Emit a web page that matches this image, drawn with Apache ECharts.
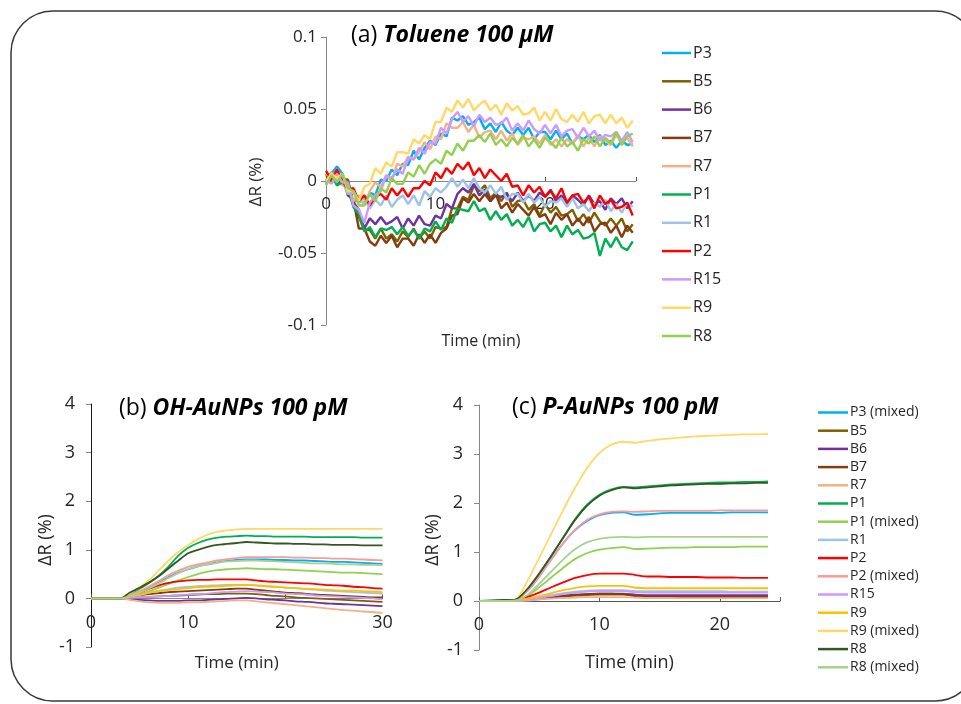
<!DOCTYPE html>
<html><head><meta charset="utf-8">
<script src="https://cdn.jsdelivr.net/npm/echarts@6/dist/echarts.min.js"></script>
<style>html,body{margin:0;padding:0;background:#fff}#c{width:961px;height:704px}</style>
</head><body><div id="c"></div>
<script>
// ---------- Panel (a): Toluene 100 µM ----------
const timeA = [0,0.5,1,1.5,2,2.5,3,3.5,4,4.5,5,5.5,6,6.5,7,7.5,8,8.5,9,9.5,10,10.5,11,11.5,12,12.5,13,13.5,14,14.5,15,15.5,16,16.5,17,17.5,18,18.5,19,19.5,20,20.5,21,21.5,22,22.5,23,23.5,24,24.5,25,25.5,26,26.5,27,27.5,28];
const namesA = ['P3','B5','B6','B7','R7','P1','R1','P2','R15','R9','R8'];
const colorsA = ['#00B0F0','#7F6000','#7030A0','#843C0C','#F4B183','#00B050','#9DC3E6','#FF0000','#CC99FF','#FFD966','#92D050'];
const a_P3 = [-.002,.005,.01,.005,-.005,-.015,-.012,-.016,-.008,-.01,.001,0,.008,.004,.012,.011,.021,.015,.023,.028,.025,.033,.031,.044,.042,.045,.039,.041,.044,.036,.04,.034,.041,.035,.032,.037,.032,.037,.029,.034,.034,.029,.035,.029,.033,.026,.031,.029,.032,.027,.032,.025,.028,.023,.028,.025,.026];
const a_B5 = [.004,.002,.006,.001,.001,-.015,-.025,-.034,-.034,-.04,-.033,-.04,-.037,-.042,-.035,-.039,-.033,-.04,-.035,-.04,-.032,-.033,-.032,-.019,-.019,-.011,-.013,-.003,-.007,-.003,-.012,-.008,-.014,-.008,-.018,-.014,-.013,-.02,-.016,-.024,-.016,-.022,-.018,-.024,-.023,-.02,-.028,-.023,-.029,-.022,-.028,-.031,-.026,-.031,-.026,-.035,-.03];
const a_B6 = [0,.006,-.002,.001,-.002,-.015,-.02,-.033,-.026,-.03,-.025,-.03,-.028,-.025,-.033,-.026,-.031,-.024,-.03,-.031,-.024,-.026,-.016,-.019,-.009,-.005,-.008,-.002,-.01,-.006,-.014,-.01,-.011,-.009,-.014,-.008,-.014,-.01,-.014,-.008,-.011,-.006,-.014,-.01,-.016,-.01,-.013,-.017,-.01,-.016,-.014,-.02,-.012,-.016,-.012,-.019,-.014];
const a_B7 = [.005,-.001,.002,.003,-.01,-.013,-.033,-.033,-.042,-.045,-.038,-.043,-.038,-.046,-.04,-.04,-.045,-.037,-.043,-.037,-.043,-.036,-.033,-.024,-.023,-.012,-.015,-.009,-.014,-.009,-.014,-.009,-.019,-.015,-.022,-.016,-.02,-.024,-.018,-.025,-.023,-.03,-.022,-.027,-.023,-.031,-.026,-.031,-.025,-.035,-.03,-.029,-.036,-.031,-.039,-.031,-.036];
const a_R7 = [.005,.002,.008,-.003,-.004,-.014,-.01,-.017,-.007,-.001,-.004,.004,0,.012,.01,.017,.015,.02,.027,.022,.031,.029,.04,.037,.037,.041,.034,.039,.03,.034,.035,.029,.035,.028,.033,.025,.03,.029,.031,.026,.032,.025,.029,.024,.029,.026,.032,.024,.03,.024,.031,.028,.025,.032,.027,.03,.024];
const a_P1 = [-.001,.004,-.003,-.001,-.005,-.018,-.023,-.035,-.032,-.039,-.033,-.034,-.032,-.037,-.032,-.038,-.034,-.04,-.033,-.035,-.028,-.034,-.026,-.029,-.019,-.02,-.021,-.014,-.021,-.019,-.027,-.021,-.027,-.023,-.031,-.027,-.032,-.025,-.035,-.03,-.029,-.035,-.031,-.039,-.031,-.037,-.034,-.04,-.039,-.036,-.052,-.04,-.046,-.039,-.046,-.048,-.042];
const a_R1 = [-.002,.006,.001,.001,-.009,-.007,-.015,-.012,-.019,-.013,-.017,-.01,-.018,-.013,-.01,-.016,-.01,-.017,-.007,-.011,-.005,-.008,-.004,.002,-.004,.001,-.005,.002,-.005,-.008,-.003,-.009,-.004,-.013,-.009,-.009,-.015,-.009,-.015,-.011,-.018,-.014,-.015,-.012,-.018,-.012,-.019,-.016,-.021,-.015,-.018,-.013,-.021,-.016,-.022,-.015,-.018];
const a_P2 = [.007,.001,.008,0,-.006,-.005,-.014,-.01,-.017,-.011,-.009,-.013,-.005,-.01,-.005,-.011,-.005,-.005,0,-.003,.006,.002,.009,.005,.012,.008,.013,.004,.009,.002,.008,.004,0,.005,-.004,-.003,-.01,-.003,-.008,-.004,-.011,-.007,-.012,-.005,-.015,-.01,-.009,-.015,-.011,-.019,-.01,-.016,-.013,-.019,-.018,-.015,-.024];
const a_R15 = [.001,-.002,.005,-.001,-.001,-.017,-.02,-.029,-.015,-.01,-.007,.004,.002,.008,.005,.016,.015,.023,.019,.027,.026,.037,.033,.043,.048,.041,.045,.038,.046,.041,.044,.039,.04,.044,.035,.04,.035,.042,.036,.033,.039,.033,.039,.031,.035,.036,.03,.037,.031,.035,.028,.032,.031,.034,.028,.034,.027];
const a_R9 = [0,.005,.002,.005,-.007,-.007,-.014,-.004,-.002,.009,.005,.013,.01,.02,.02,.019,.029,.026,.032,.029,.041,.041,.051,.048,.056,.051,.057,.049,.053,.056,.049,.053,.046,.054,.049,.052,.046,.047,.051,.042,.048,.042,.05,.043,.041,.046,.041,.048,.04,.045,.046,.04,.046,.04,.044,.037,.042];
const a_R8 = [-.003,.004,-.001,.005,-.005,-.007,-.017,-.017,-.009,-.014,-.005,-.008,.002,-.002,-.002,.006,.003,.011,.005,.012,.015,.012,.021,.018,.026,.021,.028,.028,.032,.027,.033,.025,.029,.024,.03,.026,.032,.024,.029,.023,.03,.027,.023,.03,.024,.027,.021,.029,.026,.031,.024,.03,.026,.034,.025,.031,.033];
const valuesA = [a_P3,a_B5,a_B6,a_B7,a_R7,a_P1,a_R1,a_P2,a_R15,a_R9,a_R8];
const yTicksA = [-0.1,-0.05,0,0.05,0.1];

// ---------- Shared names for panels (b) and (c) ----------
const namesBC = ['P3 (mixed)','B5','B6','B7','R7','P1','P1 (mixed)','R1','P2','P2 (mixed)','R15','R9','R9 (mixed)','R8','R8 (mixed)'];
const colorsBC = ['#00B0F0','#7F6000','#7030A0','#843C0C','#F4B183','#00B050','#92D050','#9DC3E6','#FF0000','#FF9999','#CC99FF','#FFC000','#FFD966','#375623','#A9D18E'];

// ---------- Panel (b): OH-AuNPs 100 pM ----------
const timeB = [0,1,2,3,4,5,6,7,8,9,10,11,12,13,14,15,16,17,18,19,20,21,22,23,24,25,26,27,28,29,30];
const b_P3m = [0,0,0,0,.05,.13,.23,.33,.44,.53,.6,.66,.7,.74,.77,.79,.8,.8,.8,.79,.79,.78,.78,.77,.76,.75,.75,.74,.73,.72,.71];
const b_B5 = [0,0,0,0,.01,.02,.03,.04,.05,.06,.07,.08,.09,.09,.1,.1,.1,.09,.07,.05,.04,.02,.01,0,-.01,-.02,-.03,-.04,-.05,-.06,-.07];
const b_B6 = [0,0,0,0,-.02,-.03,-.04,-.05,-.05,-.05,-.04,-.04,-.03,-.02,-.01,0,.01,0,-.02,-.03,-.04,-.06,-.07,-.08,-.1,-.11,-.12,-.13,-.14,-.15,-.16];
const b_B7 = [0,0,0,0,.04,.07,.09,.11,.13,.14,.15,.16,.17,.18,.19,.2,.2,.18,.16,.14,.12,.11,.1,.08,.07,.06,.05,.04,.03,.02,.02];
const b_R7 = [0,0,0,0,-.03,-.06,-.08,-.09,-.09,-.09,-.08,-.08,-.07,-.06,-.05,-.04,-.04,-.06,-.08,-.1,-.12,-.14,-.16,-.18,-.2,-.22,-.24,-.25,-.27,-.28,-.3];
const b_P1 = [0,0,0,0,.08,.2,.32,.47,.66,.88,1.04,1.14,1.21,1.25,1.27,1.28,1.29,1.28,1.28,1.27,1.27,1.27,1.27,1.26,1.26,1.26,1.26,1.26,1.25,1.25,1.25];
const b_P1m = [0,0,0,0,.03,.08,.15,.22,.3,.37,.44,.5,.55,.58,.6,.61,.62,.61,.6,.6,.59,.58,.57,.56,.55,.54,.53,.53,.52,.51,.5];
const b_R1 = [0,0,0,0,.03,.07,.12,.16,.19,.22,.24,.25,.26,.27,.28,.28,.28,.27,.25,.24,.22,.21,.19,.18,.16,.15,.14,.13,.12,.11,.1];
const b_P2 = [0,0,0,0,.05,.12,.2,.27,.32,.35,.37,.38,.38,.39,.39,.39,.39,.37,.35,.34,.33,.32,.31,.3,.28,.27,.26,.24,.23,.21,.2];
const b_P2m = [0,0,0,0,.06,.15,.25,.36,.48,.57,.65,.7,.74,.78,.81,.83,.85,.85,.85,.85,.85,.84,.84,.83,.83,.82,.82,.81,.8,.79,.78];
const b_R15 = [0,0,0,0,.01,.02,.03,.04,.05,.07,.08,.09,.1,.12,.13,.14,.15,.14,.13,.12,.1,.09,.08,.06,.05,.04,.03,.02,.01,0,-.02];
const b_R9 = [0,0,0,0,.04,.08,.12,.15,.17,.19,.21,.23,.24,.25,.26,.27,.28,.27,.25,.24,.22,.21,.2,.19,.18,.17,.16,.16,.15,.14,.13];
const b_R9m = [0,0,0,0,.1,.23,.38,.58,.78,.96,1.1,1.22,1.31,1.37,1.4,1.42,1.43,1.43,1.43,1.43,1.43,1.43,1.43,1.43,1.43,1.43,1.43,1.43,1.43,1.43,1.43];
const b_R8 = [0,0,0,0,.12,.22,.33,.46,.62,.78,.93,1.0,1.06,1.1,1.12,1.14,1.16,1.15,1.14,1.13,1.13,1.12,1.12,1.11,1.11,1.1,1.1,1.1,1.09,1.09,1.09];
const b_R8m = [0,0,0,0,.05,.12,.21,.31,.42,.52,.6,.66,.7,.73,.76,.77,.78,.78,.77,.76,.75,.74,.73,.72,.72,.71,.7,.7,.69,.69,.68];
const valuesB = [b_P3m,b_B5,b_B6,b_B7,b_R7,b_P1,b_P1m,b_R1,b_P2,b_P2m,b_R15,b_R9,b_R9m,b_R8,b_R8m];

// ---------- Panel (c): P-AuNPs 100 pM ----------
const timeC = [0,1,2,3,4,5,6,7,8,9,10,11,12,13,14,15,16,17,18,19,20,21,22,23,24];
const c_P3m = [0,0,0,.02,.2,.5,.85,1.18,1.45,1.64,1.75,1.8,1.81,1.76,1.77,1.79,1.8,1.8,1.8,1.8,1.8,1.81,1.81,1.81,1.81];
const c_B5 = [0,0,0,0,.02,.04,.07,.09,.11,.12,.13,.13,.13,.11,.1,.1,.1,.1,.1,.1,.1,.1,.1,.1,.1];
const c_B6 = [0,0,0,0,.02,.05,.08,.11,.13,.14,.15,.15,.15,.13,.12,.12,.12,.12,.12,.12,.12,.12,.12,.12,.12];
const c_B7 = [0,0,0,0,.02,.05,.08,.11,.13,.14,.15,.15,.14,.1,.09,.09,.09,.08,.08,.08,.08,.08,.08,.08,.08];
const c_R7 = [0,0,0,0,.01,.03,.05,.06,.07,.08,.08,.08,.08,.07,.06,.06,.06,.06,.06,.06,.06,.06,.06,.06,.06];
const c_P1 = [0,0,.01,.02,.22,.55,.92,1.3,1.68,1.97,2.17,2.28,2.33,2.32,2.34,2.36,2.38,2.39,2.4,2.41,2.42,2.42,2.43,2.43,2.44];
const c_P1m = [0,0,0,.01,.1,.28,.48,.68,.86,.98,1.05,1.08,1.1,1.06,1.07,1.08,1.09,1.09,1.1,1.1,1.1,1.1,1.11,1.11,1.11];
const c_R1 = [0,0,0,0,.03,.07,.12,.16,.19,.21,.22,.22,.22,.2,.2,.2,.2,.2,.2,.2,.2,.19,.19,.19,.19];
const c_P2 = [0,0,0,.01,.08,.17,.28,.38,.47,.53,.56,.56,.56,.53,.5,.5,.49,.49,.49,.48,.48,.48,.47,.47,.47];
const c_P2m = [0,0,0,.02,.2,.5,.85,1.18,1.46,1.66,1.77,1.82,1.83,1.82,1.83,1.84,1.84,1.84,1.84,1.84,1.85,1.85,1.85,1.85,1.85];
const c_R15 = [0,0,0,0,.03,.06,.1,.14,.17,.19,.2,.2,.2,.18,.17,.17,.17,.17,.17,.17,.17,.17,.17,.17,.17];
const c_R9 = [0,0,0,.01,.05,.1,.16,.22,.27,.3,.31,.31,.31,.27,.26,.26,.26,.26,.26,.26,.26,.26,.26,.26,.26];
const c_R9m = [0,0,0,.02,.4,.88,1.37,1.86,2.32,2.72,3.02,3.19,3.25,3.23,3.27,3.3,3.32,3.34,3.36,3.37,3.38,3.39,3.4,3.4,3.41];
const c_R8 = [0,.01,.02,.03,.24,.56,.92,1.29,1.66,1.95,2.15,2.26,2.32,2.3,2.32,2.34,2.36,2.37,2.38,2.39,2.39,2.4,2.4,2.41,2.41];
const c_R8m = [0,0,0,.01,.12,.35,.6,.85,1.06,1.2,1.27,1.3,1.31,1.3,1.31,1.31,1.31,1.31,1.31,1.31,1.31,1.31,1.31,1.31,1.31];
const valuesC = [c_P3m,c_B5,c_B6,c_B7,c_R7,c_P1,c_P1m,c_R1,c_P2,c_P2m,c_R15,c_R9,c_R9m,c_R8,c_R8m];
const yTicksBC = [-1,0,1,2,3,4];
const xTickLabels = [0,10,20,30];

// ---------- Chart ----------
const FONT = '"Open Sans", "Liberation Sans", sans-serif';
const TXT = '#262626';
const chart = echarts.init(document.getElementById('c'), null, {renderer: 'canvas'});

function pairs(t, v) { return t.map((x, i) => [x, v[i]]); }
function xFmt(v) { return xTickLabels.indexOf(v) >= 0 ? String(v) : ''; }

const series = [];
namesA.forEach((n, i) => series.push({
  name: n, type: 'line', xAxisIndex: 0, yAxisIndex: 0, data: pairs(timeA, valuesA[i]),
  showSymbol: false, symbol: 'none', color: colorsA[i], lineStyle: {width: 2.4, color: colorsA[i]}, silent: true
}));
namesBC.forEach((n, i) => series.push({
  name: n, type: 'line', xAxisIndex: 1, yAxisIndex: 1, data: pairs(timeB, valuesB[i]), smooth: 0.3,
  showSymbol: false, symbol: 'none', color: colorsBC[i], lineStyle: {width: 1.8, color: colorsBC[i]}, silent: true
}));
namesBC.forEach((n, i) => series.push({
  name: n, type: 'line', xAxisIndex: 2, yAxisIndex: 2, data: pairs(timeC, valuesC[i]), smooth: 0.3,
  showSymbol: false, symbol: 'none', color: colorsBC[i], lineStyle: {width: 1.8, color: colorsBC[i]}, silent: true
}));

function yAx(idx, min, max, itv, lineColor, margin, fs) {
  return {gridIndex: idx, type: 'value', min: min, max: max, interval: itv,
    splitLine: {show: false},
    axisLine: {show: true, onZero: false, lineStyle: {color: lineColor, width: 1}},
    axisTick: {show: true, length: 5, lineStyle: {color: '#868686'}},
    axisLabel: {color: TXT, fontSize: fs, fontFamily: FONT, margin: margin}};
}
// x axes sit on the zero line: offset (negative) moves them up from the grid bottom
function xAx(idx, max, lineColor, offset, nameGap, fs, nfs) {
  return {gridIndex: idx, type: 'value', min: 0, max: max, interval: 10, position: 'bottom', offset: offset,
    splitLine: {show: false},
    axisLine: {show: true, onZero: false, lineStyle: {color: lineColor, width: 1}},
    axisTick: {show: true, length: 4, inside: true, lineStyle: {color: '#595959'}},
    axisLabel: {color: TXT, fontSize: fs, fontFamily: FONT, margin: 15, formatter: xFmt, hideOverlap: false},
    name: 'Time (min)', nameLocation: 'middle', nameGap: nameGap, nameMoveOverlap: false,
    nameTextStyle: {color: TXT, fontSize: nfs, fontFamily: FONT}};
}

function legendItems(names, colors) {
  return names.map((n, i) => ({name: n, itemStyle: {color: colors[i]}, lineStyle: {color: colors[i]}}));
}

const titleRich = (fs) => ({
  n: {fontSize: fs, fontFamily: FONT, color: '#000', fontWeight: 'normal'},
  b: {fontSize: fs, fontFamily: FONT, color: '#000', fontWeight: 'bold', fontStyle: 'italic'}
});
const titleStyle = (fs) => ({fontWeight: 'normal', fontSize: fs, fontFamily: FONT, rich: titleRich(fs)});

chart.setOption({
  animation: false,
  backgroundColor: '#ffffff',
  title: [
    {text: '{n|(a) }{b|Toluene 100 μM}', left: 346, top: 19, textStyle: titleStyle(23)},
    {text: '{n|(b) }{b|OH-AuNPs 100 pM}', left: 114, top: 392, textStyle: titleStyle(23)},
    {text: '{n|(c) }{b|P-AuNPs 100 pM}', left: 507, top: 391, textStyle: titleStyle(23)}
  ],
  grid: [
    {left: 326, top: 37, width: 310, height: 288, outerBoundsMode: 'none', containLabel: false},
    {left: 91, top: 404, width: 291.5, height: 243, outerBoundsMode: 'none', containLabel: false},
    {left: 479, top: 405, width: 301, height: 245, outerBoundsMode: 'none', containLabel: false}
  ],
  xAxis: [
    xAx(0, 28.3, '#868686', -144, 152, 17, 16),
    xAx(1, 30, '#868686', -48.6, 56, 18, 17),
    xAx(2, 25, '#595959', -49, 53, 18, 18)
  ],
  yAxis: [
    yAx(0, yTicksA[0], yTicksA[4], 0.05, '#868686', 9, 17),
    yAx(1, yTicksBC[0], yTicksBC[5], 1, '#1a1a1a', 16, 18),
    yAx(2, yTicksBC[0], yTicksBC[5], 1, '#868686', 16, 18)
  ],
  legend: [
    {orient: 'vertical', left: 657, top: 38, itemWidth: 29, itemHeight: 2.5, icon: 'rect', itemGap: 8.3,
      selectedMode: false, textStyle: {color: TXT, fontSize: 16, fontFamily: FONT, lineHeight: 20, padding: [0,0,0,-3]},
      data: legendItems(namesA, colorsA)},
    {orient: 'vertical', left: 813, top: 399.5, itemWidth: 30, itemHeight: 2.5, icon: 'rect', itemGap: 2.2,
      selectedMode: false, textStyle: {color: TXT, fontSize: 14, fontFamily: FONT, lineHeight: 16, padding: [0,0,0,-3]},
      data: legendItems(namesBC, colorsBC)}
  ],
  graphic: [
    {type: 'rect', silent: true, z: 100, shape: {x: 11, y: 11, width: 966, height: 690, r: 42},
      style: {fill: 'none', stroke: '#3a3a3a', lineWidth: 1.5}},
    {type: 'text', x: 256, y: 182, rotation: Math.PI / 2, silent: true,
      style: {text: 'ΔR (%)', font: '17px ' + FONT, fill: TXT, align: 'center', verticalAlign: 'middle'}},
    {type: 'text', x: 46, y: 540, rotation: Math.PI / 2, silent: true,
      style: {text: 'ΔR (%)', font: '18px ' + FONT, fill: TXT, align: 'center', verticalAlign: 'middle'}},
    {type: 'text', x: 433, y: 540, rotation: Math.PI / 2, silent: true,
      style: {text: 'ΔR (%)', font: '18px ' + FONT, fill: TXT, align: 'center', verticalAlign: 'middle'}}
  ],
  series: series
});
</script></body></html>
